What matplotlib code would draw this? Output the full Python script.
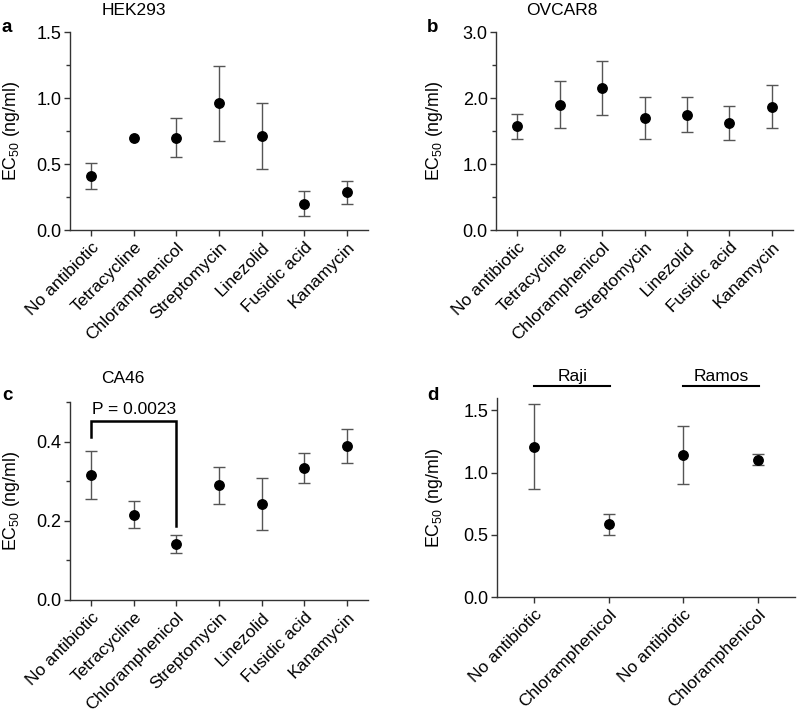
import numpy as np
import matplotlib
matplotlib.use("Agg")
import matplotlib.pyplot as plt
from matplotlib.ticker import MultipleLocator, FixedLocator

plt.rcParams['font.family'] = ['Liberation Sans', 'DejaVu Sans']
plt.rcParams['mathtext.fontset'] = 'custom'
plt.rcParams['mathtext.rm'] = 'Liberation Sans'

# --- donnees ---
antibiotics = ['No antibiotic', 'Tetracycline', 'Chloramphenicol', 'Streptomycin',
               'Linezolid', 'Fusidic acid', 'Kanamycin']

hek_mean = [0.41, 0.70, 0.70, 0.96, 0.71, 0.20, 0.285]
hek_err = [0.10, 0.0, 0.145, 0.285, 0.25, 0.095, 0.085]

ovcar_mean = [1.57, 1.90, 2.15, 1.70, 1.75, 1.62, 1.87]
ovcar_err = [0.19, 0.36, 0.41, 0.32, 0.27, 0.255, 0.325]

ca46_mean = [0.315, 0.215, 0.141, 0.290, 0.242, 0.334, 0.388]
ca46_err = [0.061, 0.034, 0.023, 0.047, 0.065, 0.038, 0.043]

burkitt_labels = ['No antibiotic', 'Chloramphenicol', 'No antibiotic', 'Chloramphenicol']
burkitt_mean = [1.21, 0.585, 1.14, 1.105]
burkitt_err = [0.345, 0.083, 0.235, 0.043]
burkitt_groups = ['Raji', 'Ramos']

p_value_text = 'P = 0.0023'

W, H = 797, 712
fig = plt.figure(figsize=(W / 100, H / 100), dpi=100)


def px_axes(left, top, right, bottom):
    # position en pixels -> fraction de figure
    return fig.add_axes([left / W, 1 - bottom / H, (right - left) / W, (bottom - top) / H])


def style_axes(ax, ymax, major, minor, labels):
    ax.spines['top'].set_visible(False)
    ax.spines['right'].set_visible(False)
    for s in ('left', 'bottom'):
        ax.spines[s].set_color('#333333')
        ax.spines[s].set_linewidth(1.0)
    ax.set_ylim(0, ymax)
    ax.set_xlim(-0.5, len(labels) - 0.5)
    ax.yaxis.set_major_locator(MultipleLocator(major))
    if minor:
        ax.yaxis.set_minor_locator(MultipleLocator(minor))
    ax.yaxis.set_major_formatter(plt.FuncFormatter(lambda v, p: f'{v:.1f}'))
    ax.set_xticks(range(len(labels)))
    ax.set_xticklabels(labels, rotation=45, ha='right', rotation_mode='anchor', fontsize=12.5)
    ax.tick_params(axis='y', which='major', length=4, width=1, color='#333333', labelsize=13, pad=2)
    ax.tick_params(axis='y', which='minor', length=3, width=1, color='#333333')
    ax.tick_params(axis='x', length=4, width=1, color='#333333', pad=3)
    ax.set_ylabel(r'EC$_{50}$ (ng/ml)', fontsize=12.8)


def draw_points(ax, means, errs):
    x = np.arange(len(means))
    m = np.array(means)
    e = np.array(errs)
    keep = e > 0
    ax.errorbar(x[keep], m[keep], yerr=e[keep], fmt='none', ecolor='#555555', elinewidth=1.0,
                capsize=4.5, capthick=1.0, zorder=2)
    ax.plot(x, m, 'o', color='black', markersize=6.8, zorder=3)


# a : HEK293
ax_a = px_axes(70, 32, 368, 230)
draw_points(ax_a, hek_mean, hek_err)
style_axes(ax_a, 1.5, 0.5, 0.25, antibiotics)
ax_a.yaxis.set_label_coords(-0.162, 0.5)
ax_a.text(0.106, 1.11, 'HEK293', transform=ax_a.transAxes, fontsize=12.5, va='center', ha='left')

# b : OVCAR8
ax_b = px_axes(496, 32, 793, 230)
draw_points(ax_b, ovcar_mean, ovcar_err)
style_axes(ax_b, 3.0, 1.0, 0.5, antibiotics)
ax_b.yaxis.set_label_coords(-0.172, 0.5)
ax_b.text(0.103, 1.11, 'OVCAR8', transform=ax_b.transAxes, fontsize=12.5, va='center', ha='left')

# c : CA46
ax_c = px_axes(70, 402, 368, 600)
draw_points(ax_c, ca46_mean, ca46_err)
style_axes(ax_c, 0.5, 0.2, 0.1, antibiotics)
ax_c.set_yticks([0.0, 0.2, 0.4])
ax_c.yaxis.set_minor_locator(FixedLocator([0.1, 0.3, 0.5]))
ax_c.yaxis.set_label_coords(-0.162, 0.5)
ax_c.text(0.106, 1.12, 'CA46', transform=ax_c.transAxes, fontsize=12.5, va='center', ha='left')
# crochet de significativite
ax_c.plot([0, 0, 2, 2], [0.412, 0.453, 0.453, 0.187], color='black', lw=1.8,
          solid_joinstyle='miter', clip_on=False, zorder=4)
ax_c.text(1.0, 0.482, p_value_text, ha='center', va='center', fontsize=12.5, clip_on=False)

# d : Raji / Ramos
ax_d = px_axes(497, 398, 795, 597)
draw_points(ax_d, burkitt_mean, burkitt_err)
style_axes(ax_d, 1.6, 0.5, None, burkitt_labels)
ax_d.yaxis.set_major_locator(FixedLocator([0.0, 0.5, 1.0, 1.5]))
ax_d.yaxis.set_label_coords(-0.175, 0.5)
for i, g in enumerate(burkitt_groups):
    x0, x1 = 2 * i, 2 * i + 1
    ax_d.plot([x0, x1 + 0.02], [1.696, 1.696], color='black', lw=1.5, clip_on=False)
    ax_d.text((x0 + x1) / 2 + 0.01, 1.775, g, ha='center', va='center', fontsize=12.5, clip_on=False)

# lettres des panneaux
for lab, x, y in [('a', 2, 27), ('b', 427, 27), ('c', 2, 395), ('d', 427, 395)]:
    fig.text(x / W, 1 - y / H, lab, fontsize=13.5, fontweight='bold', ha='left', va='center')

fig.savefig('out.png', dpi=100)
